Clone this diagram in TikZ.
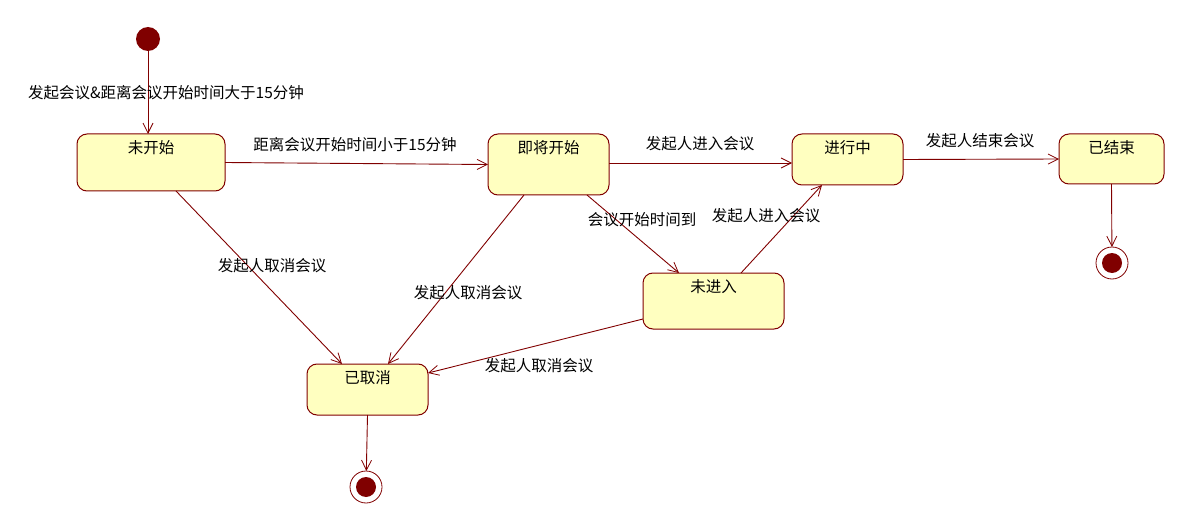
\documentclass[tikz,border=0pt]{standalone}
\usepackage{fontspec}
\setmainfont{Noto Sans CJK SC}
\usetikzlibrary{arrows.meta}
\definecolor{umlred}{RGB}{128,0,0}
\definecolor{umlfill}{RGB}{255,255,192}
\begin{document}
\begin{tikzpicture}[x=1pt,y=-1pt,
  font=\fontsize{15.5}{18}\selectfont,
  state/.style={draw=umlred, fill=umlfill, rounded corners=10pt, line width=1pt,
    inner sep=0pt, outer sep=0pt, anchor=north west},
  stname/.style={label={[anchor=center,yshift=-14pt,inner sep=0pt]north:#1}},
  initst/.style={circle, fill=umlred, minimum size=24pt, inner sep=0pt, outer sep=0pt},
  finalst/.style={circle, draw=umlred, line width=0.8pt, fill=white, minimum size=32pt, inner sep=0pt, outer sep=0pt,
    path picture={\fill[umlred] (path picture bounding box.center) circle (10pt);}},
  tr/.style={draw=umlred, line width=0.9pt, -{Straight Barb[length=10pt,width=10pt,line width=0.8pt]}},
  lbl/.style={inner sep=0pt, text=black}]
\useasboundingbox (0,0) rectangle (1192,532);

% states
\node[initst] (init) at (148,39) {};
\node[state, minimum width=148pt, minimum height=57pt, stname=未开始] (n1) at (77,134) {};
\node[state, minimum width=121pt, minimum height=61pt, stname=即将开始] (n2) at (488,134) {};
\node[state, minimum width=111pt, minimum height=51pt, stname=进行中] (n3) at (792,134) {};
\node[state, minimum width=105pt, minimum height=50pt, stname=已结束] (n4) at (1059,134) {};
\node[state, minimum width=141pt, minimum height=56pt, stname=未进入] (n5) at (643,273) {};
\node[state, minimum width=121pt, minimum height=51pt, stname=已取消] (n6) at (307,364) {};
\node[finalst] (f1) at (366,487) {};
\node[finalst] (f2) at (1112,263) {};

% transitions
\draw[tr] (init) -- (init |- n1.north);
\draw[tr] (n1.east) -- (n2.west);
\draw[tr] ([yshift=1.5pt]n2.east) coordinate (a2) -- (a2 -| n3.west);
\draw[tr] (n3.east) -- (n4.west);
\draw[tr] (n4.south) -- (f2);
\draw[tr] ([xshift=99pt]n1.south west) -- ([xshift=35pt]n6.north west);
\draw[tr] ([xshift=36pt]n2.south west) -- ([xshift=81pt]n6.north west);
\draw[tr] ([xshift=99pt]n2.south west) -- ([xshift=36pt]n5.north west);
\draw[tr] ([xshift=98pt]n5.north west) -- ([xshift=30pt]n3.south west);
\draw[tr] ([yshift=-18pt]n5.west) -- ([yshift=16.5pt]n6.east);
\draw[tr] (n6.south) -- (f1);

% labels
\node[lbl] (l1) at (166,93) {发起会议\&距离会议开始时间大于15分钟};
\node[lbl] (l2) at (355,145) {距离会议开始时间小于15分钟};
\node[lbl] (l3) at (700,144) {发起人进入会议};
\node[lbl] (l4) at (980,141) {发起人结束会议};
\node[lbl] (l5) at (272,266) {发起人取消会议};
\node[lbl] (l6) at (468,293) {发起人取消会议};
\node[lbl] (l7) at (539,366) {发起人取消会议};
\node[lbl] (l8) at (642,220) {会议开始时间到};
\node[lbl] (l9) at (766,216) {发起人进入会议};
\end{tikzpicture}
\end{document}
